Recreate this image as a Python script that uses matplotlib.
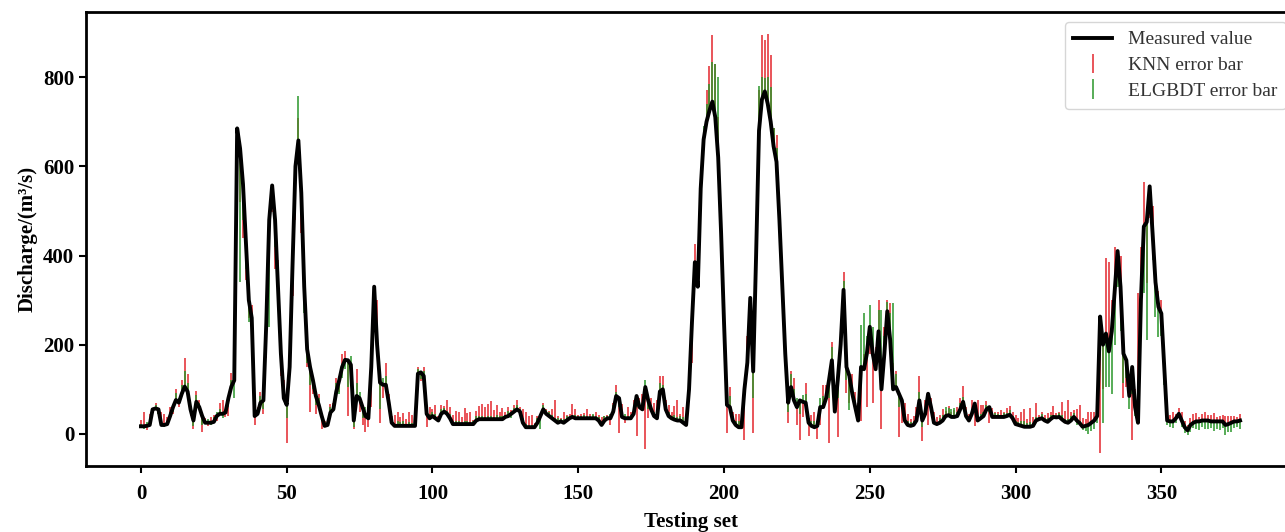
import numpy as np
import matplotlib
matplotlib.use('Agg')
import matplotlib.pyplot as plt

plt.rcParams['font.family'] = ['Liberation Serif', 'DejaVu Serif']

# measured discharge, index 0..377
measured = [
    17, 17, 18, 20, 55, 57, 55, 20, 20, 22,
    40, 60, 76, 70, 90, 106, 95, 55, 30, 72,
    60, 40, 25, 25, 25, 27, 40, 45, 45, 48,
    80, 106, 120, 685, 640, 560, 430, 300, 260, 40,
    45, 70, 75, 250, 480, 557, 480, 330, 180, 80,
    65, 150, 380, 600, 658, 540, 330, 190, 150, 120,
    85, 65, 40, 18, 20, 48, 55, 95, 120, 150,
    166, 165, 155, 30, 85, 80, 60, 40, 35, 150,
    330, 200, 115, 110, 110, 70, 25, 18, 18, 18,
    18, 18, 18, 18, 18, 135, 138, 130, 45, 35,
    40, 35, 30, 45, 50, 45, 35, 22, 22, 22,
    22, 22, 22, 22, 22, 30, 33, 33, 33, 33,
    33, 33, 33, 33, 33, 38, 40, 45, 50, 55,
    50, 25, 15, 15, 15, 15, 25, 40, 55, 45,
    40, 35, 30, 25, 28, 25, 30, 35, 38, 35,
    35, 35, 35, 35, 35, 35, 35, 30, 20, 30,
    35, 35, 50, 85, 80, 38, 35, 35, 35, 45,
    85, 60, 55, 105, 75, 55, 40, 35, 95, 100,
    55, 40, 35, 32, 30, 30, 25, 20, 100, 250,
    385, 330, 550, 660, 700, 725, 745, 710, 620, 450,
    250, 65, 60, 30, 20, 15, 15, 100, 160, 305,
    140, 400, 680, 750, 768, 740, 700, 645, 610, 480,
    330, 180, 70, 105, 75, 60, 75, 72, 70, 25,
    18, 15, 18, 60, 60, 80, 120, 165, 50, 120,
    200, 323, 150, 130, 90, 60, 30, 150, 145, 180,
    240, 180, 145, 230, 100, 180, 275, 210, 100, 105,
    90, 75, 30, 20, 18, 20, 30, 75, 30, 45,
    90, 60, 25, 22, 25, 30, 40, 42, 38, 38,
    40, 55, 72, 40, 30, 45, 68, 30, 35, 40,
    55, 60, 38, 38, 38, 38, 38, 40, 43, 35,
    22, 20, 18, 16, 16, 16, 18, 30, 33, 35,
    30, 27, 33, 38, 37, 38, 32, 27, 25, 30,
    38, 30, 24, 16, 18, 20, 25, 30, 40, 263,
    200, 225, 185, 230, 320, 410, 330, 180, 165, 85,
    150, 60, 25, 300, 465, 475, 555, 450, 340, 285,
    270, 150, 30, 28, 28, 35, 45, 30, 15, 8,
    20, 25, 28, 28, 30, 30, 30, 28, 28, 28,
    28, 28, 20, 22, 25, 28, 28, 30,
]

# KNN prediction minus measured value
knn_dev = [
    15, 33, -10, 25, -8, 12, -10, 30, 25, 15,
    20, -15, 25, -10, 30, 65, 40, -15, -20, 25,
    15, -35, 10, -8, 12, 15, -10, 25, 30, -10,
    -40, 30, 90, -60, -120, -120, -85, -40, 30, -20,
    15, 25, -30, -80, -90, -60, -110, 60, -50, 40,
    -85, 40, -70, -120, 50, -90, 60, -40, -100, -30,
    -40, 25, -30, 10, 12, 20, 15, 30, -25, 30,
    20, -125, -40, -20, 60, -30, -40, -35, -20, -90,
    -80, 100, -90, -30, 50, 20, 15, 25, 30, 20,
    28, 15, 30, 25, 22, 15, -20, 20, -30, 25,
    15, 30, 10, 20, 12, 30, 25, 20, 30, 28,
    15, 35, 25, 28, 10, 22, 30, 35, 28, 33,
    40, 20, 32, 15, 25, 10, 20, 8, 15, 20,
    10, 30, 35, 25, 28, 10, 15, 5, 15, 10,
    12, 20, 45, 15, 8, 25, 12, 10, 30, 20,
    8, 10, 12, 20, 10, 8, 15, 12, 18, 10,
    8, -15, 20, 25, -78, 30, -10, 25, 15, 30,
    -90, 20, 35, -140, -40, 25, 30, 40, 35, 30,
    20, 25, 15, 30, 45, 15, 35, 12, 20, -90,
    40, 30, 25, 20, 70, 100, 150, 120, 90, 30,
    -40, -63, 45, 20, 25, 30, 25, -113, 60, -40,
    -138, 60, 90, 145, 115, 157, 150, 40, 60, 20,
    40, 30, -46, 35, 50, -40, -88, -35, 45, -30,
    25, 35, -30, -40, 50, 30, -140, 40, 60, -126,
    45, 40, -59, -60, 45, 35, 40, -120, 35, -119,
    -60, -110, 50, 70, -90, 60, 25, 83, 60, 35,
    -96, -50, 40, 25, 15, 20, 30, 55, -45, 30,
    -70, 20, 25, 15, 18, 25, 12, 20, 10, 15,
    20, 25, 35, 20, 15, 30, -50, 45, 30, 25,
    18, -35, 20, 12, 10, 15, 12, 18, 20, 15,
    20, 15, 30, 40, 18, 42, 20, 40, 10, 15,
    12, 20, 15, 25, 10, 12, 40, 25, 50, 20,
    15, 25, 40, 20, 15, 30, 25, 20, 30, -306,
    -100, 170, 200, 70, 100, -60, 70, -100, -60, 45,
    -163, 40, 290, 120, 100, -137, -70, 60, 40, 35,
    30, 40, 12, 15, 20, 10, 12, 20, 15, 12,
    15, 20, 18, 10, 15, 20, 12, 15, 18, 10,
    12, 15, 20, 18, 15, 12, 10, 15,
]

# ELGBDT prediction minus measured value
elgbdt_dev = [
    5, -5, 8, 10, -5, 8, -10, 10, -5, 8,
    10, -10, 15, 10, 20, 35, 20, -10, -12, 15,
    10, -20, 5, 8, -5, 10, 8, 10, -10, 5,
    -20, 15, -40, -100, -300, -80, -60, -50, -40, 15,
    10, 15, -20, -60, -240, -40, -60, -40, -30, 20,
    -30, 25, -40, -60, 100, -50, -60, -30, -40, -20,
    -20, 15, -10, 8, 10, 12, 10, 20, -30, -25,
    -20, -60, 20, -15, 30, 15, -25, 20, 10, -40,
    -50, 40, -60, 15, 20, 10, 8, 5, 10, 8,
    10, 5, 8, 6, 5, 10, -15, 10, 15, 10,
    8, 10, 5, 10, 8, 6, 10, 5, 8, 6,
    5, 8, 6, 5, 8, 10, 6, 8, 5, 6,
    8, 5, 10, 6, 8, 5, 12, -10, 8, 10,
    6, 10, 8, 5, 6, 8, 10, -30, 10, 8,
    10, 8, 6, 10, 5, 8, 10, 6, 5, 8,
    5, 6, 8, 5, 6, 10, 5, 8, 6, 10,
    5, 10, 15, 10, -20, 8, 10, 5, 8, 15,
    -25, 10, 15, 16, -20, 10, 8, 15, 20, 10,
    10, 8, 6, 10, 8, 10, 12, 15, 20, -40,
    -40, 30, -50, 30, 40, 60, 90, 120, 180, 60,
    -30, 20, 25, 10, 8, 15, 10, -40, 20, -30,
    -60, 80, 100, 50, 30, 60, 78, 40, 30, 20,
    20, 15, -20, 30, 25, 20, -30, 15, 20, 10,
    10, 15, 10, 20, 25, 15, -40, 30, 20, -40,
    30, 20, -30, -76, 20, 15, 20, 94, 126, 40,
    50, 60, 30, 48, 178, 40, 20, 60, 193, 30,
    -30, -20, 15, 10, 8, 10, 12, 20, -15, 10,
    -15, 10, 8, 5, 10, 12, 20, 15, 18, 20,
    10, 15, 10, 8, 6, 10, -15, 12, 10, 8,
    10, -10, 5, 8, 6, 5, 8, 6, 10, 5,
    8, 6, 10, 12, 8, 10, 6, 8, 5, 10,
    6, 8, 10, 5, 6, 8, 10, 6, 8, 10,
    8, -10, 6, -8, -12, -20, -18, -20, -15, -60,
    -176, -120, -80, -140, -120, -80, -100, -67, -40, -30,
    -60, -20, 15, -80, -150, -265, -60, -60, -77, -67,
    -50, -40, -10, -12, -15, -10, -8, -15, -12, -10,
    -15, -12, -18, -20, -15, -18, -20, -15, -22, -18,
    -20, -15, -22, -18, -20, -15, -12, -18,
]

x = np.arange(len(measured))
y = np.array(measured, dtype=float)
knn = np.array(knn_dev, dtype=float)
elg = np.array(elgbdt_dev, dtype=float)


def one_sided(dev):
    # bar runs from the measured value to the prediction
    return np.vstack([np.clip(-dev, 0, None), np.clip(dev, 0, None)])


fig = plt.figure(figsize=(12.85, 5.32), dpi=100)
ax = fig.add_axes([86 / 1285, 66 / 532, (1295 - 86) / 1285, 454 / 532])

ax.plot(x, y, color='black', lw=2.8, label='Measured value', zorder=3)
ax.errorbar(x, y, yerr=one_sided(knn), fmt='none', ecolor='#e3262c',
            elinewidth=1.1, label='KNN error bar', zorder=2)
ax.errorbar(x, y, yerr=one_sided(elg), fmt='none', ecolor='#2a962a',
            elinewidth=1.1, label='ELGBDT error bar', zorder=2)

ax.set_xlim(-18.85, 395.85)
ax.set_ylim(-72, 946)
ax.set_xticks(np.arange(0, 351, 50))
ax.set_yticks(np.arange(0, 801, 200))
ax.tick_params(labelsize=15, width=1.5, length=5)
ax.tick_params(axis='x', pad=8)
for lab in ax.get_xticklabels() + ax.get_yticklabels():
    lab.set_fontweight('bold')
for sp in ax.spines.values():
    sp.set_linewidth(2)

ax.set_xlabel('Testing set', fontsize=15, fontweight='bold', labelpad=6)
ax.set_ylabel('Discharge/(m³/s)', fontsize=15, fontweight='bold')

leg = ax.legend(loc='upper right', bbox_to_anchor=(1286 / 1285, 1 - 22 / 532),
                bbox_transform=fig.transFigure, fontsize=14, frameon=True,
                borderaxespad=0, handlelength=2.0, borderpad=0.45,
                labelspacing=0.42)
for t in leg.get_texts():
    t.set_color('#333333')

fig.savefig('out.png', dpi=100)
